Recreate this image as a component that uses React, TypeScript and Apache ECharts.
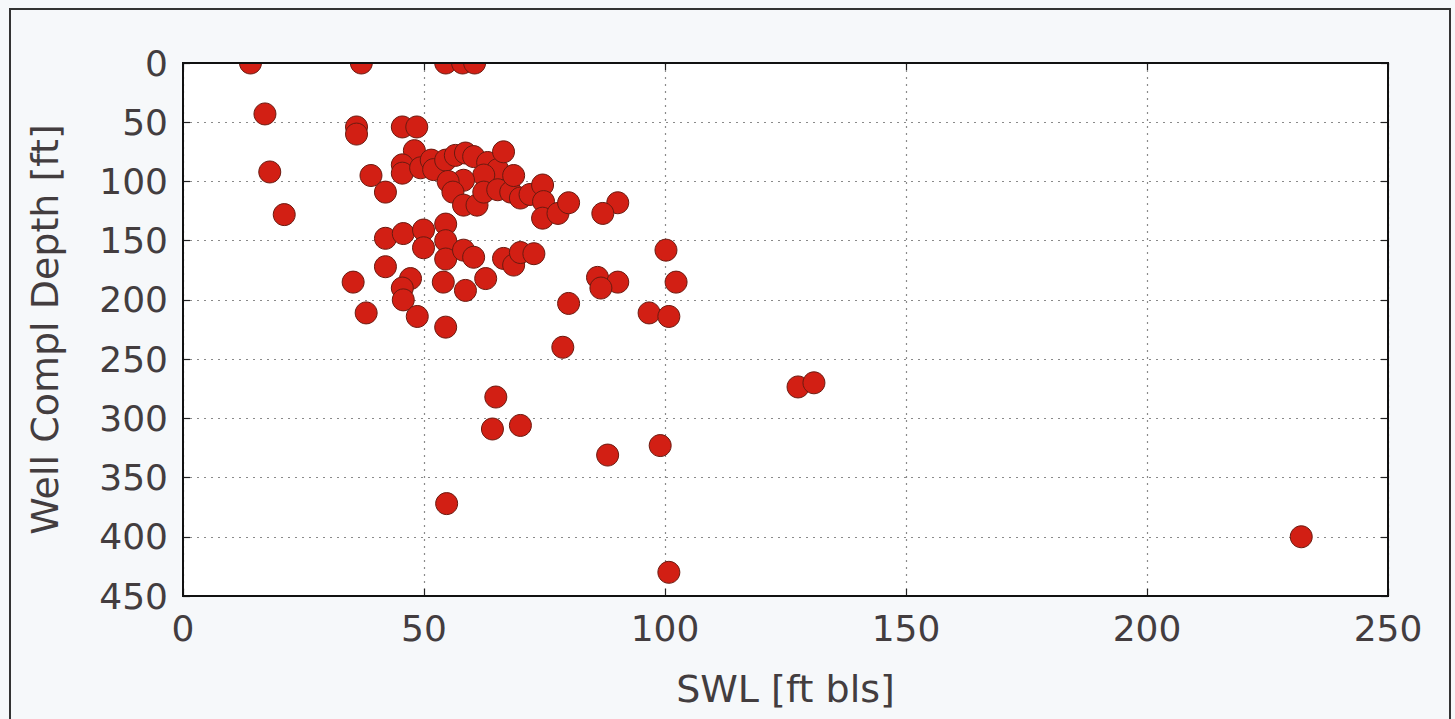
import React, { useEffect, useRef } from "react";
import * as echarts from "echarts";

const xTicks = [0, 50, 100, 150, 200, 250];
const yTicks = [0, 50, 100, 150, 200, 250, 300, 350, 400, 450];
const xTitle = "SWL [ft bls]";
const yTitle = "Well Compl Depth [ft]";

// SWL values (x)
const swl = [
  14, 37, 54.5, 58, 60.5,
  17, 36, 36, 45.5, 48.5,
  18, 21, 39, 42, 48,
  45.5, 45.5, 49.3, 51.5, 52, 54.5, 56.5, 58.6, 60.3, 63.2, 65.3, 66.5,
  62.4, 58.2, 55, 56, 58.2, 61, 62.4, 65.3, 68, 68.6, 70, 72, 74.6, 74.8, 74.6, 77.8, 80,
  54.5, 42, 45.7, 49.9, 49.9, 54.5, 54.5, 58.2, 60.3, 62.8, 54, 58.6,
  66.5, 68.6, 70, 72.8,
  35.3, 42, 47.2, 45.5, 45.7, 48.6, 38, 54.5,
  90.2, 87.1, 100.2, 102.3, 86, 90.2, 86.7, 80, 96.7, 100.8,
  78.8, 64.9, 64.2, 70, 88.1, 99, 54.7, 100.8, 127.6, 130.9, 232,
];

// Well completion depth values (y)
const depth = [
  0, 0, 0, 0, 0,
  43, 54, 60, 54, 54,
  92, 128, 95, 109, 74,
  86, 93, 88.5, 82, 90, 82, 78, 76, 79, 84, 90, 75,
  94.6, 99, 100, 109, 120, 120, 109, 107, 109, 95, 114, 111, 103, 117, 131, 127, 118,
  136, 148, 144, 141, 156, 150, 165.5, 158, 164, 182, 185, 192,
  165, 170.6, 160, 161,
  185, 172, 182, 190, 200, 214, 211, 223,
  118, 127, 158, 185, 181, 185, 190, 203, 211, 214,
  240, 282, 309, 306, 331, 323, 372, 430, 273.5, 270, 400,
];

const textColor = "#433d3f";
const font = "DejaVu Sans";
const pageBg = "#f6f8fa";

const GRID = { left: 183, top: 63, width: 1205, height: 533 };

export default function App() {
  const ref = useRef<HTMLDivElement>(null);
  useEffect(() => {
    document.body.style.margin = "0";
    const chart = echarts.init(ref.current!, null, { renderer: "svg" });
    const data = swl.map((x, i) => [x, depth[i]]);
    const xMin = xTicks[0];
    const xMax = xTicks[xTicks.length - 1];
    const xInt = xTicks[1] - xTicks[0];
    const yMin = yTicks[0];
    const yMax = yTicks[yTicks.length - 1];
    const yInt = yTicks[1] - yTicks[0];
    const gridLine = { show: true, lineStyle: { color: "#8a8a8a", width: 1.2, type: [2, 5] } };
    const tick = { show: true, inside: true, length: 7, lineStyle: { color: "#222", width: 1.2 } };
    const frame = { show: true, onZero: false, lineStyle: { color: "#111", width: 2 } };
    chart.setOption({
      animation: false,
      backgroundColor: pageBg,
      graphic: [
        {
          type: "rect",
          silent: true,
          z: -1,
          shape: { x: 10, y: 9, width: 1440, height: 720 },
          style: { fill: "none", stroke: "#333", lineWidth: 2 },
        },
        // mask: clip markers that spill above the plot area
        {
          type: "rect",
          silent: true,
          z: 100,
          shape: { x: GRID.left - 1, y: GRID.top - 30, width: GRID.width + 2, height: 30 },
          style: { fill: pageBg },
        },
        // plot frame drawn over the markers
        {
          type: "rect",
          silent: true,
          z: 101,
          shape: { x: GRID.left, y: GRID.top, width: GRID.width, height: GRID.height },
          style: { fill: "none", stroke: "#111", lineWidth: 2 },
        },
      ],
      grid: {
        ...GRID,
        show: true,
        backgroundColor: "#ffffff",
        borderWidth: 0,
      },
      xAxis: [
        {
          type: "value",
          min: xMin,
          max: xMax,
          interval: xInt,
          name: xTitle,
          nameLocation: "middle",
          nameGap: 74,
          nameTextStyle: { color: textColor, fontSize: 38, fontFamily: font },
          axisLine: frame,
          axisTick: tick,
          axisLabel: { color: textColor, fontSize: 36, fontFamily: font, margin: 14 },
          splitLine: gridLine,
        },
        {
          type: "value",
          position: "top",
          min: xMin,
          max: xMax,
          interval: xInt,
          axisLine: frame,
          axisTick: tick,
          axisLabel: { show: false },
          splitLine: { show: false },
        },
      ],
      yAxis: [
        {
          type: "value",
          inverse: true,
          min: yMin,
          max: yMax,
          interval: yInt,
          name: yTitle,
          nameLocation: "middle",
          nameGap: 119,
          nameTextStyle: { color: textColor, fontSize: 38, fontFamily: font },
          axisLine: frame,
          axisTick: tick,
          axisLabel: { color: textColor, fontSize: 36, fontFamily: font, margin: 15 },
          splitLine: gridLine,
        },
        {
          type: "value",
          position: "right",
          inverse: true,
          min: yMin,
          max: yMax,
          interval: yInt,
          axisLine: frame,
          axisTick: tick,
          axisLabel: { show: false },
          splitLine: { show: false },
        },
      ],
      series: [
        {
          type: "scatter",
          data,
          symbol: "circle",
          symbolSize: 22,
          clip: true,
          itemStyle: { color: "#d21f14", borderColor: "#6a1a10", borderWidth: 1, opacity: 1 },
        },
      ],
    });
    return () => chart.dispose();
  }, []);
  return <div ref={ref} style={{ width: 1455, height: 719 }} />;
}
